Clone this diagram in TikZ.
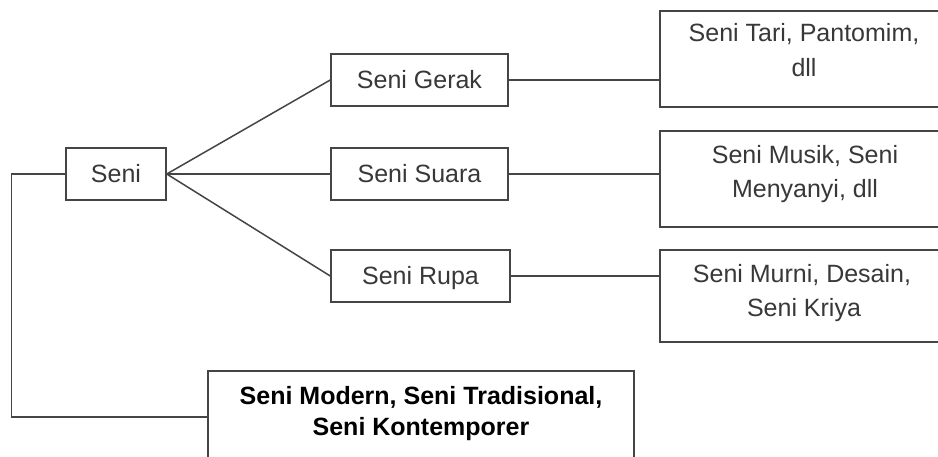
\documentclass[tikz,border=0pt]{standalone}
\usepackage{fontspec}
\setmainfont{Liberation Sans}
\definecolor{ln}{HTML}{454545}
\definecolor{tx}{HTML}{383838}
\begin{document}
\begin{tikzpicture}[x=1pt,y=-1pt,
  box/.style={draw=ln, line width=1.5pt, inner sep=0pt, text=tx,
    font=\fontsize{25}{30}\selectfont, text height=17pt, text depth=1pt},
  bigbox/.style={draw=ln, line width=1.5pt, inner sep=0pt},
  lbl/.style={text=tx, font=\fontsize{25}{30}\selectfont, inner sep=0pt, anchor=base},
  blbl/.style={text=black, font=\bfseries\fontsize{25}{30}\selectfont, inner sep=0pt, anchor=base},
  conn/.style={draw=ln, line width=1.5pt}]
\clip (0,0) rectangle (938,456);
\fill[white] (0,0) rectangle (938,456);
% level 1
\node[box, minimum width=100pt, minimum height=52pt] (seni) at (116,174) {Seni};
% level 2
\node[box, minimum width=177pt, minimum height=52pt] (gerak) at (419.5,80) {Seni Gerak};
\node[box, minimum width=177pt, minimum height=52pt] (suara) at (419.5,174) {Seni Suara};
\node[box, minimum width=179pt, minimum height=52pt] (rupa) at (420.5,276) {Seni Rupa};
% level 3 boxes (cut by the right edge)
\node[bigbox, minimum width=290pt, minimum height=96pt] (r1) at (805,59) {};
\node[bigbox, minimum width=290pt, minimum height=96pt] (r2) at (805,179) {};
\node[bigbox, minimum width=290pt, minimum height=92pt] (r3) at (805,296) {};
\node[lbl] (r1a) at (804,41) {Seni Tari, Pantomim,};
\node[lbl] (r1b) at (804,76) {dll};
\node[lbl] (r2a) at (805,163) {Seni Musik, Seni};
\node[lbl] (r2b) at (805,197) {Menyanyi, dll};
\node[lbl] (r3a) at (802,282) {Seni Murni, Desain,};
\node[lbl] (r3b) at (804,316) {Seni Kriya};
% bottom box (cut by the bottom edge)
\node[bigbox, minimum width=426pt, minimum height=92pt] (bot) at (421,417) {};
\node[blbl] (bota) at (421,404) {Seni Modern, Seni Tradisional,};
\node[blbl] (botb) at (421,435) {Seni Kontemporer};
% connectors
\draw[conn] (seni.east) -- (gerak.west);
\draw[conn] (seni.east) -- (suara.west);
\draw[conn] (seni.east) -- (rupa.west);
\draw[conn] (gerak.east) -- (gerak.east -| r1.west);
\draw[conn] (suara.east) -- (suara.east -| r2.west);
\draw[conn] (rupa.east) -- (rupa.east -| r3.west);
\draw[conn] (seni.west) -- ++(-54,0) |- (bot.west);
\end{tikzpicture}
\end{document}
